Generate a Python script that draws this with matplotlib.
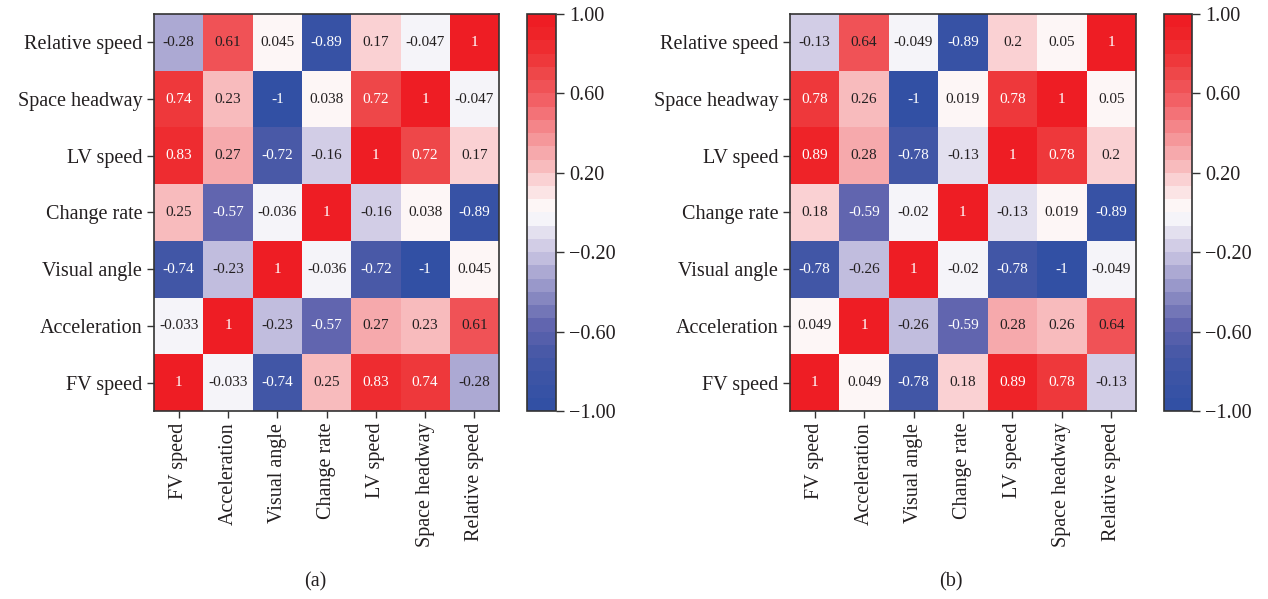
import matplotlib
matplotlib.use("Agg")
import matplotlib.pyplot as plt
import numpy as np
from matplotlib.colors import LinearSegmentedColormap
from matplotlib.ticker import FuncFormatter

plt.rcParams['font.family'] = ['Liberation Serif', 'DejaVu Serif']

# variable names (bottom-to-top on y, left-to-right on x)
labels = ['FV speed', 'Acceleration', 'Visual angle', 'Change rate',
          'LV speed', 'Space headway', 'Relative speed']

# correlation matrix, panel (a)
corr_a = [
    [1, -0.033, -0.74, 0.25, 0.83, 0.74, -0.28],
    [-0.033, 1, -0.23, -0.57, 0.27, 0.23, 0.61],
    [-0.74, -0.23, 1, -0.036, -0.72, -1, 0.045],
    [0.25, -0.57, -0.036, 1, -0.16, 0.038, -0.89],
    [0.83, 0.27, -0.72, -0.16, 1, 0.72, 0.17],
    [0.74, 0.23, -1, 0.038, 0.72, 1, -0.047],
    [-0.28, 0.61, 0.045, -0.89, 0.17, -0.047, 1],
]

# correlation matrix, panel (b)
corr_b = [
    [1, 0.049, -0.78, 0.18, 0.89, 0.78, -0.134],
    [0.049, 1, -0.26, -0.59, 0.28, 0.26, 0.64],
    [-0.78, -0.26, 1, -0.02, -0.78, -1, -0.049],
    [0.18, -0.59, -0.02, 1, -0.128, 0.019, -0.89],
    [0.89, 0.28, -0.78, -0.128, 1, 0.78, 0.198],
    [0.78, 0.26, -1, 0.019, 0.78, 1, 0.05],
    [-0.134, 0.64, -0.049, -0.89, 0.198, 0.05, 1],
]

panel_tags = ['(a)', '(b)']
cbar_ticks = [-1.0, -0.6, -0.2, 0.2, 0.6, 1.0]

# blue - white - red diverging map, cut into 30 steps
anchors = [
    (-1.00, (50, 80, 164)),
    (-0.75, (68, 87, 166)),
    (-0.58, (98, 102, 175)),
    (-0.30, (175, 172, 212)),
    (-0.23, (196, 192, 224)),
    (-0.15, (215, 210, 232)),
    (-0.03, (246, 245, 250)),
    (0.03, (253, 247, 247)),
    (0.17, (250, 210, 212)),
    (0.23, (248, 190, 192)),
    (0.30, (246, 172, 175)),
    (0.62, (241, 87, 92)),
    (0.72, (238, 72, 74)),
    (0.80, (238, 55, 58)),
    (0.90, (238, 38, 42)),
    (1.00, (238, 29, 36)),
]
cmap = LinearSegmentedColormap.from_list(
    'bwr_custom', [((v + 1) / 2, tuple(c / 255 for c in rgb)) for v, rgb in anchors]
).resampled(30)

fmt_minus = FuncFormatter(lambda x, pos: f'{x:.2f}'.replace('-', '\u2212'))
edge = '#333333'


def draw_panel(fig, rect, cbar_rect, data, tag, tag_x):
    data = np.array(data, dtype=float)
    n = len(labels)
    ax = fig.add_axes(rect)
    mesh = ax.pcolormesh(np.arange(n + 1), np.arange(n + 1), data,
                         cmap=cmap, vmin=-1, vmax=1)
    ax.set_xlim(0, n)
    ax.set_ylim(0, n)
    ax.set_xticks(np.arange(n) + 0.5)
    ax.set_yticks(np.arange(n) + 0.5)
    ax.set_xticklabels(labels, rotation=90, fontsize=14.5)
    ax.set_yticklabels(labels, fontsize=14.5)
    ax.tick_params(length=5, width=1, color=edge, labelcolor='#231f20')
    for s in ax.spines.values():
        s.set_color(edge)
        s.set_linewidth(1.2)

    for i in range(n):
        for j in range(n):
            v = data[i, j]
            col = 'white' if (v > 0.66 or v < -0.45) else '#231f20'
            ax.text(j + 0.5, i + 0.5, f'{v:.2g}', ha='center', va='center',
                    fontsize=11, color=col)

    cax = fig.add_axes(cbar_rect)
    cb = fig.colorbar(mesh, cax=cax)
    cb.set_ticks(cbar_ticks)
    cb.ax.yaxis.set_major_formatter(fmt_minus)
    cb.ax.tick_params(labelsize=14.5, length=6, width=1, color=edge,
                      labelcolor='#231f20')
    cb.outline.set_edgecolor(edge)
    cb.outline.set_linewidth(1.2)

    fig.text(tag_x, 0.013, tag, ha='center', va='bottom', fontsize=14.5,
             color='#231f20')


fig = plt.figure(figsize=(12.68, 5.99), dpi=100)

draw_panel(fig, [0.1215, 0.3139, 0.2721, 0.6628],
           [0.4156, 0.3139, 0.0229, 0.6628], corr_a, panel_tags[0], 0.249)
draw_panel(fig, [0.6230, 0.3139, 0.2729, 0.6628],
           [0.9180, 0.3139, 0.0221, 0.6628], corr_b, panel_tags[1], 0.75)

fig.savefig('out.png', dpi=100)
